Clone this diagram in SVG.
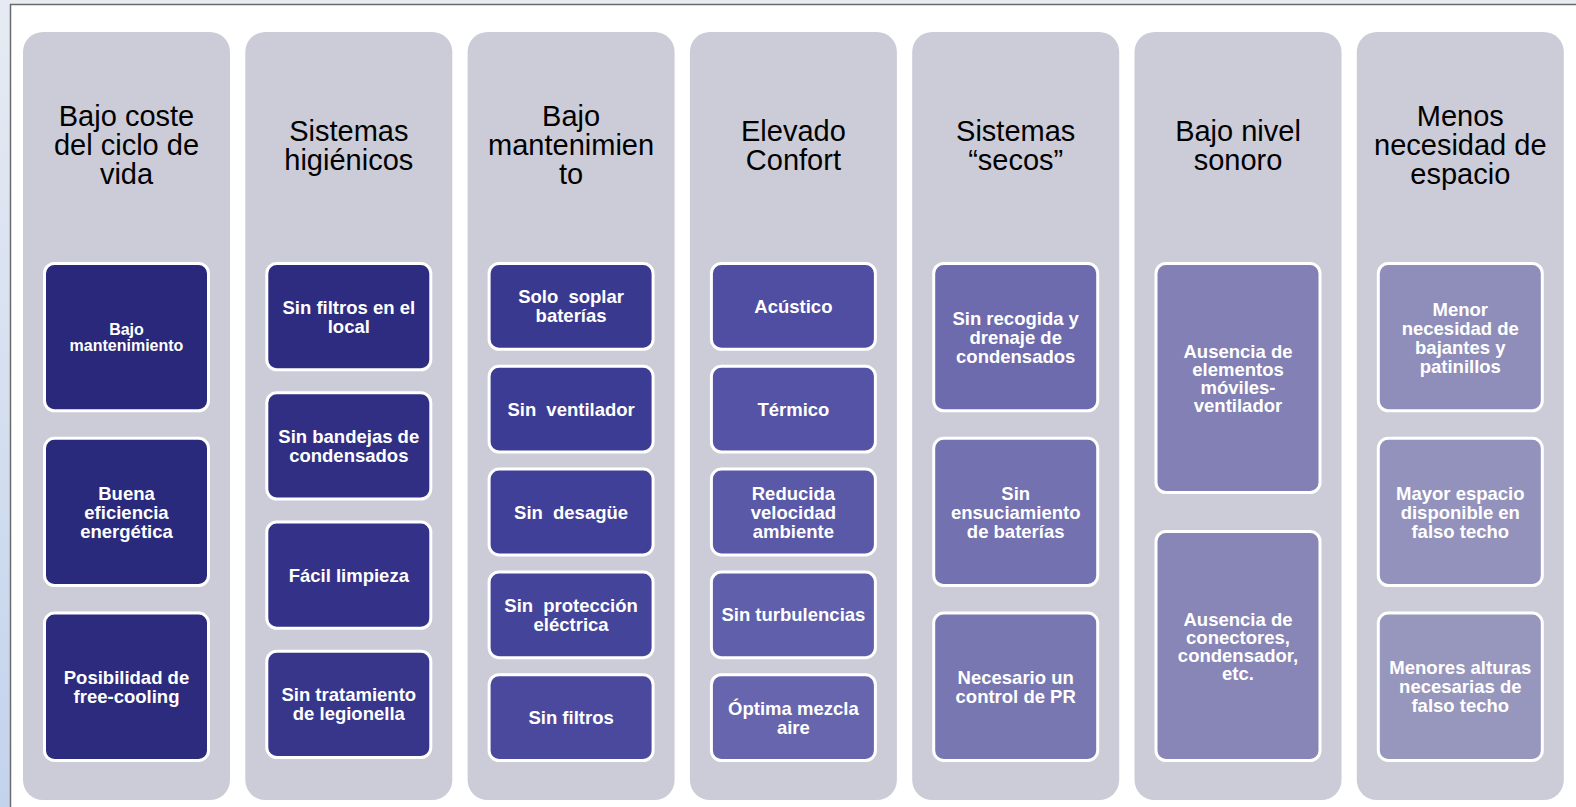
<svg xmlns="http://www.w3.org/2000/svg" width="1576" height="807" viewBox="0 0 1576 807">
<defs>
<linearGradient id="side" x1="0" y1="0" x2="0" y2="1">
<stop offset="0" stop-color="#e6ebf3"/>
<stop offset="1" stop-color="#c3d3ec"/>
</linearGradient>
</defs>
<style>
.col{fill:#ccccd8}
.box{stroke:#ffffff;stroke-width:3}
.hd{font-family:"Liberation Sans",Arial,sans-serif;font-size:29px;fill:#000000;text-anchor:middle}
.bt{font-family:"Liberation Sans",Arial,sans-serif;font-size:18.5px;font-weight:bold;fill:#ffffff;text-anchor:middle}
.ws{word-spacing:5px}
</style>
<rect x="0" y="0" width="1576" height="807" fill="#ffffff"/>
<rect x="0" y="0" width="10" height="807" fill="url(#side)"/>
<rect x="10" y="0" width="1566" height="4" fill="#e9ecf1"/>
<line x1="10" y1="4.5" x2="1576" y2="4.5" stroke="#6b6b6b" stroke-width="1.5"/>
<line x1="10.5" y1="4" x2="10.5" y2="807" stroke="#6b6b6b" stroke-width="1.5"/>

<g id="col1">
<rect class="col" x="23" y="32" width="207" height="768" rx="20"/>
<text class="hd"><tspan x="126.5" y="126">Bajo coste</tspan><tspan x="126.5" y="155">del ciclo de</tspan><tspan x="126.5" y="184">vida</tspan></text>
</g>
<g id="col1-n1"><rect class="box" x="44.5" y="263.5" width="164" height="147.3" rx="10" fill="#29287a"/>
<text class="bt" style="font-size:16px"><tspan x="126.5" y="334.5">Bajo</tspan><tspan x="126.5" y="351">mantenimiento</tspan></text></g>
<g id="col1-n2"><rect class="box" x="44.5" y="438.3" width="164" height="147.3" rx="10" fill="#2a2a7c"/>
<text class="bt"><tspan x="126.5" y="499.5">Buena</tspan><tspan x="126.5" y="518.5">eficiencia</tspan><tspan x="126.5" y="537.5">energética</tspan></text></g>
<g id="col1-n3"><rect class="box" x="44.5" y="613.1" width="164" height="147.3" rx="10" fill="#2c2b7e"/>
<text class="bt"><tspan x="126.5" y="683.8">Posibilidad de</tspan><tspan x="126.5" y="702.8">free-cooling</tspan></text></g>

<g id="col2">
<rect class="col" x="245.3" y="32" width="207" height="768" rx="20"/>
<text class="hd"><tspan x="348.8" y="141">Sistemas</tspan><tspan x="348.8" y="170">higiénicos</tspan></text>
</g>
<g id="col2-n1"><rect class="box" x="266.8" y="263.5" width="164" height="106.25" rx="10" fill="#2d2c80"/>
<text class="bt"><tspan x="348.8" y="313.6">Sin filtros en el</tspan><tspan x="348.8" y="332.6">local</tspan></text></g>
<g id="col2-n2"><rect class="box" x="266.8" y="392.75" width="164" height="106.25" rx="10" fill="#302f84"/>
<text class="bt"><tspan x="348.8" y="442.9">Sin bandejas de</tspan><tspan x="348.8" y="461.9">condensados</tspan></text></g>
<g id="col2-n3"><rect class="box" x="266.8" y="522" width="164" height="106.25" rx="10" fill="#333288"/>
<text class="bt"><tspan x="348.8" y="581.6">Fácil limpieza</tspan></text></g>
<g id="col2-n4"><rect class="box" x="266.8" y="651.25" width="164" height="106.25" rx="10" fill="#37368b"/>
<text class="bt"><tspan x="348.8" y="701.4">Sin tratamiento</tspan><tspan x="348.8" y="720.4">de legionella</tspan></text></g>

<g id="col3">
<rect class="col" x="467.6" y="32" width="207" height="768" rx="20"/>
<text class="hd"><tspan x="571.1" y="126">Bajo</tspan><tspan x="571.1" y="155">mantenimien</tspan><tspan x="571.1" y="184">to</tspan></text>
</g>
<g id="col3-n1"><rect class="box" x="489.1" y="263.5" width="164" height="85.8" rx="10" fill="#3a3990"/>
<text class="bt ws"><tspan x="571.1" y="303.4">Solo soplar</tspan><tspan x="571.1" y="322.4">baterías</tspan></text></g>
<g id="col3-n2"><rect class="box" x="489.1" y="366.3" width="164" height="85.8" rx="10" fill="#3d3c94"/>
<text class="bt ws"><tspan x="571.1" y="415.7">Sin ventilador</tspan></text></g>
<g id="col3-n3"><rect class="box" x="489.1" y="469.1" width="164" height="85.8" rx="10" fill="#414098"/>
<text class="bt ws"><tspan x="571.1" y="518.5">Sin desagüe</tspan></text></g>
<g id="col3-n4"><rect class="box" x="489.1" y="571.9" width="164" height="85.8" rx="10" fill="#45449b"/>
<text class="bt ws"><tspan x="571.1" y="611.8">Sin protección</tspan><tspan x="571.1" y="630.8">eléctrica</tspan></text></g>
<g id="col3-n5"><rect class="box" x="489.1" y="674.7" width="164" height="85.8" rx="10" fill="#4a499e"/>
<text class="bt"><tspan x="571.1" y="724.1">Sin filtros</tspan></text></g>

<g id="col4">
<rect class="col" x="689.9" y="32" width="207" height="768" rx="20"/>
<text class="hd"><tspan x="793.4" y="141">Elevado</tspan><tspan x="793.4" y="170">Confort</tspan></text>
</g>
<g id="col4-n1"><rect class="box" x="711.4" y="263.5" width="164" height="85.8" rx="10" fill="#4f4ea2"/>
<text class="bt"><tspan x="793.4" y="312.9">Acústico</tspan></text></g>
<g id="col4-n2"><rect class="box" x="711.4" y="366.3" width="164" height="85.8" rx="10" fill="#5453a5"/>
<text class="bt"><tspan x="793.4" y="415.7">Térmico</tspan></text></g>
<g id="col4-n3"><rect class="box" x="711.4" y="469.1" width="164" height="85.8" rx="10" fill="#5a59a8"/>
<text class="bt"><tspan x="793.4" y="499.5">Reducida</tspan><tspan x="793.4" y="518.5">velocidad</tspan><tspan x="793.4" y="537.5">ambiente</tspan></text></g>
<g id="col4-n4"><rect class="box" x="711.4" y="571.9" width="164" height="85.8" rx="10" fill="#605fab"/>
<text class="bt"><tspan x="793.4" y="621.3">Sin turbulencias</tspan></text></g>
<g id="col4-n5"><rect class="box" x="711.4" y="674.7" width="164" height="85.8" rx="10" fill="#6665ae"/>
<text class="bt"><tspan x="793.4" y="714.6">Óptima mezcla</tspan><tspan x="793.4" y="733.6">aire</tspan></text></g>

<g id="col5">
<rect class="col" x="912.2" y="32" width="207" height="768" rx="20"/>
<text class="hd"><tspan x="1015.7" y="141">Sistemas</tspan><tspan x="1015.7" y="170">“secos”</tspan></text>
</g>
<g id="col5-n1"><rect class="box" x="933.7" y="263.5" width="164" height="147.3" rx="10" fill="#6d6bae"/>
<text class="bt"><tspan x="1015.7" y="324.7">Sin recogida y</tspan><tspan x="1015.7" y="343.7">drenaje de</tspan><tspan x="1015.7" y="362.7">condensados</tspan></text></g>
<g id="col5-n2"><rect class="box" x="933.7" y="438.3" width="164" height="147.3" rx="10" fill="#7371b0"/>
<text class="bt"><tspan x="1015.7" y="499.5">Sin</tspan><tspan x="1015.7" y="518.5">ensuciamiento</tspan><tspan x="1015.7" y="537.5">de baterías</tspan></text></g>
<g id="col5-n3"><rect class="box" x="933.7" y="613.1" width="164" height="147.3" rx="10" fill="#7977b2"/>
<text class="bt"><tspan x="1015.7" y="683.8">Necesario un</tspan><tspan x="1015.7" y="702.8">control de PR</tspan></text></g>

<g id="col6">
<rect class="col" x="1134.5" y="32" width="207" height="768" rx="20"/>
<text class="hd"><tspan x="1238" y="141">Bajo nivel</tspan><tspan x="1238" y="170">sonoro</tspan></text>
</g>
<g id="col6-n1"><rect class="box" x="1156" y="263.5" width="164" height="229" rx="10" fill="#8280b4"/>
<text class="bt"><tspan x="1238" y="357.5">Ausencia de</tspan><tspan x="1238" y="375.5">elementos</tspan><tspan x="1238" y="393.5">móviles-</tspan><tspan x="1238" y="411.5">ventilador</tspan></text></g>
<g id="col6-n2"><rect class="box" x="1156" y="531.5" width="164" height="229" rx="10" fill="#8886b7"/>
<text class="bt"><tspan x="1238" y="625.5">Ausencia de</tspan><tspan x="1238" y="643.5">conectores,</tspan><tspan x="1238" y="661.5">condensador,</tspan><tspan x="1238" y="679.5">etc.</tspan></text></g>

<g id="col7">
<rect class="col" x="1356.8" y="32" width="207" height="768" rx="20"/>
<text class="hd"><tspan x="1460.3" y="126">Menos</tspan><tspan x="1460.3" y="155">necesidad de</tspan><tspan x="1460.3" y="184">espacio</tspan></text>
</g>
<g id="col7-n1"><rect class="box" x="1378.3" y="263.5" width="164" height="147.3" rx="10" fill="#8f8eba"/>
<text class="bt"><tspan x="1460.3" y="315.7">Menor</tspan><tspan x="1460.3" y="334.7">necesidad de</tspan><tspan x="1460.3" y="353.7">bajantes y</tspan><tspan x="1460.3" y="372.7">patinillos</tspan></text></g>
<g id="col7-n2"><rect class="box" x="1378.3" y="438.3" width="164" height="147.3" rx="10" fill="#9392bc"/>
<text class="bt"><tspan x="1460.3" y="499.5">Mayor espacio</tspan><tspan x="1460.3" y="518.5">disponible en</tspan><tspan x="1460.3" y="537.5">falso techo</tspan></text></g>
<g id="col7-n3"><rect class="box" x="1378.3" y="613.1" width="164" height="147.3" rx="10" fill="#9796bd"/>
<text class="bt"><tspan x="1460.3" y="674.3">Menores alturas</tspan><tspan x="1460.3" y="693.3">necesarias de</tspan><tspan x="1460.3" y="712.3">falso techo</tspan></text></g>

<g id="connectors"></g>
</svg>
